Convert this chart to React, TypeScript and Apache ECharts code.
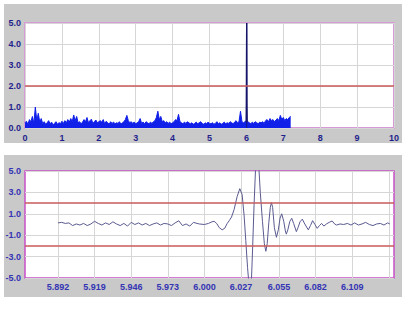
import React, { useEffect, useRef } from "react";
import * as echarts from "echarts";

// ---- Top panel: spectrum (0 .. 7.2 s, sample step 0.04) ----
const SPECTRUM_STEP = 0.04;
const SPECTRUM: number[] = [
  0.25, 0.32, 0.18, 0.4, 0.3, 0.55, 0.22, 1.0, 0.35, 0.7, 0.28, 0.45, 0.2,
  0.3, 0.18, 0.25, 0.35, 0.2, 0.28, 0.15, 0.22, 0.3, 0.18, 0.26, 0.2, 0.32,
  0.22, 0.35, 0.25, 0.4, 0.28, 0.45, 0.3, 0.62, 0.35, 0.55, 0.25, 0.3,
  0.2, 0.28, 0.4, 0.3, 0.5, 0.25, 0.35, 0.42, 0.22, 0.3, 0.38, 0.25, 0.3,
  0.35, 0.28, 0.4, 0.2, 0.32, 0.25, 0.18, 0.3, 0.22, 0.28, 0.2, 0.25,
  0.22, 0.3, 0.18, 0.25, 0.3, 0.4, 0.6, 0.35, 0.25, 0.3, 0.22, 0.28, 0.2,
  0.25, 0.3, 0.45, 0.22, 0.28, 0.2, 0.3, 0.25, 0.2, 0.28, 0.22, 0.3,
  0.35, 0.5, 0.8, 0.4, 0.55, 0.3, 0.35, 0.25, 0.3, 0.22, 0.28, 0.2, 0.25,
  0.3, 0.4, 0.35, 0.65, 0.3, 0.25, 0.2, 0.28, 0.22, 0.3, 0.25, 0.2,
  0.25, 0.18, 0.22, 0.28, 0.2, 0.25, 0.3, 0.22, 0.18, 0.25, 0.2, 0.28, 0.22,
  0.2, 0.25, 0.18, 0.22, 0.3, 0.2, 0.25, 0.18, 0.22, 0.28, 0.2, 0.25,
  0.22, 0.3, 0.25, 0.2, 0.28, 0.35, 0.25, 0.3, 0.8, 0.3, 0.25, 0.3, 0.35,
  0.3, 0.25, 0.2, 0.28, 0.22, 0.3, 0.25, 0.2, 0.28, 0.25, 0.3, 0.22,
  0.35, 0.4, 0.3, 0.45, 0.35, 0.4, 0.3, 0.38, 0.45, 0.35, 0.6, 0.4, 0.5,
  0.35, 0.45, 0.4, 0.5, 0.55,
];
const SPIKE: [number, number][] = [
  [5.995, 0.3], [6.0, 1.2], [6.005, 3.3], [6.01, 5.0], [6.015, 1.2], [6.02, 0.3],
];
const TOP_X_MIN = 0;
const TOP_X_MAX = 10;
const TOP_Y_MIN = 0;
const TOP_Y_MAX = 5;
const TOP_LIMIT = [2];

// ---- Bottom panel: zoomed waveform ----
const WAVE: [number, number][] = [
  [5.892, 0.15], [5.8947, 0.2], [5.8974, 0.1], [5.9001, 0.15], [5.9028, -0.1],
  [5.9055, 0.05], [5.9082, -0.05], [5.9109, 0.1], [5.9136, -0.1], [5.9163, 0.05],
  [5.919, 0.3], [5.9217, 0.1], [5.9244, -0.05], [5.9271, 0.15], [5.9298, 0.0],
  [5.9325, 0.25], [5.9352, 0.05], [5.9379, -0.1], [5.9406, 0.1], [5.9433, -0.15],
  [5.946, 0.2], [5.9487, 0.0], [5.9514, 0.15], [5.9541, -0.05], [5.9568, 0.1],
  [5.9595, -0.1], [5.9622, 0.05], [5.9649, 0.15], [5.9676, -0.05], [5.9703, 0.1],
  [5.973, 0.05], [5.9757, -0.1], [5.9784, 0.15], [5.9811, 0.35], [5.9838, -0.1],
  [5.9865, 0.05], [5.9892, -0.15], [5.9919, 0.2], [5.9946, 0.1], [5.9962, 0.05],
  [6.0, 0.0], [6.003, 0.1], [6.0055, 0.25], [6.0072, 0.3], [6.009, 0.1],
  [6.011, -0.3], [6.0131, -0.5], [6.015, -0.35], [6.0168, 0.1], [6.0185, 0.4],
  [6.02, 0.7], [6.0219, 1.4], [6.0241, 2.6], [6.0261, 3.35], [6.0278, 2.8],
  [6.0293, 0.8], [6.0305, -1.5], [6.0318, -4.0], [6.0333, -6.3], [6.0346, -5.5],
  [6.0356, -2.0], [6.0366, 1.8], [6.0377, 5.2], [6.039, 6.2], [6.0402, 5.2],
  [6.0412, 3.0], [6.0428, 0.3], [6.0442, -1.8], [6.0453, -2.5], [6.0463, -1.8],
  [6.0475, 0.2], [6.0486, 1.6], [6.0494, 2.05], [6.0503, 1.6], [6.0516, -0.3],
  [6.0531, -1.2], [6.0545, -0.5], [6.0558, 0.6], [6.057, 1.0], [6.0585, 0.3],
  [6.0597, -0.6], [6.0604, -0.9], [6.0615, -0.5], [6.063, 0.3], [6.0644, 0.58],
  [6.0658, 0.1], [6.0678, -0.67], [6.069, -0.3], [6.0705, 0.25], [6.0722, 0.5],
  [6.074, 0.05], [6.0766, -0.5], [6.0782, -0.1], [6.0798, 0.36], [6.0815, 0.0],
  [6.0832, -0.36], [6.0848, -0.1], [6.0864, 0.1], [6.0881, -0.15], [6.09, 0.05],
  [6.092, 0.2], [6.0942, 0.33], [6.096, 0.05], [6.0975, -0.05], [6.1, 0.05],
  [6.1027, 0.0], [6.1054, 0.1], [6.1081, -0.05], [6.1108, 0.15], [6.1135, -0.05],
  [6.1162, 0.05], [6.1189, 0.2], [6.1216, 0.0], [6.1243, -0.1], [6.127, 0.05],
  [6.1297, 0.1], [6.1324, -0.05], [6.1351, 0.15], [6.1367, 0.05],
];
const BOTTOM_X_TICKS = [5.892, 5.919, 5.946, 5.973, 6.0, 6.027, 6.055, 6.082, 6.109];
const BOTTOM_X_GRID = [...BOTTOM_X_TICKS, 6.136];
const BOTTOM_X_MIN = 5.8677;
const BOTTOM_X_MAX = 6.1398;
const BOTTOM_Y_MIN = -5;
const BOTTOM_Y_MAX = 5;
const BOTTOM_LIMITS = [2, -2];

const FONT = "'Liberation Sans', Arial, sans-serif";

export default function App() {
  const ref = useRef<HTMLDivElement>(null);
  useEffect(() => {
    if (!ref.current) return;
    const chart = echarts.init(ref.current, undefined, { renderer: "svg" });
    const topLabel = { color: "#1f1f8c", fontFamily: FONT, fontWeight: "bold" as const, fontSize: 9 };
    const botLabel = { color: "#3434b4", fontFamily: FONT, fontWeight: "bold" as const, fontSize: 9 };
    const gridLine = { show: true, lineStyle: { color: "#d6d6d6", width: 1 } };
    chart.setOption({
      animation: false,
      backgroundColor: "#ffffff",
      graphic: [
        { type: "rect", z: -10, shape: { x: 4, y: 4, width: 398, height: 139 }, style: { fill: "#c9c9c9" } },
        { type: "rect", z: -10, shape: { x: 4, y: 155, width: 398, height: 142 }, style: { fill: "#c9c9c9" } },
      ],
      grid: [
        { left: 25, top: 23, width: 369, height: 105, show: true, backgroundColor: "#ffffff", borderColor: "#d79ad7", borderWidth: 2 },
        { left: 25, top: 171, width: 369, height: 107, show: true, backgroundColor: "#ffffff", borderColor: "#c850c8", borderWidth: 1.5 },
      ],
      xAxis: [
        {
          type: "value", gridIndex: 0, min: TOP_X_MIN, max: TOP_X_MAX, interval: 1,
          axisLine: { show: false }, axisTick: { show: false },
          axisLabel: { ...topLabel, margin: 5, formatter: (v: number) => String(v) },
          splitLine: gridLine,
        },
        {
          type: "value", gridIndex: 1, min: BOTTOM_X_MIN, max: BOTTOM_X_MAX,
          axisLine: { show: false },
          axisTick: { show: false, customValues: BOTTOM_X_GRID },
          axisLabel: { ...botLabel, margin: 4, customValues: BOTTOM_X_TICKS, formatter: (v: number) => v.toFixed(3) },
          splitLine: gridLine,
        },
      ],
      yAxis: [
        {
          type: "value", gridIndex: 0, min: TOP_Y_MIN, max: TOP_Y_MAX, interval: 1,
          axisLine: { show: false }, axisTick: { show: false },
          axisLabel: { ...topLabel, margin: 4, formatter: (v: number) => v.toFixed(1) },
          splitLine: gridLine,
        },
        {
          type: "value", gridIndex: 1, min: BOTTOM_Y_MIN, max: BOTTOM_Y_MAX, interval: 2,
          axisLine: { show: false }, axisTick: { show: false },
          axisLabel: { ...botLabel, margin: 4, formatter: (v: number) => v.toFixed(1) },
          splitLine: gridLine,
        },
      ],
      series: [
        {
          type: "line", xAxisIndex: 0, yAxisIndex: 0, symbol: "none", z: 3,
          data: SPECTRUM.map((v, i) => [i * SPECTRUM_STEP, v]),
          lineStyle: { color: "#1020e8", width: 1 },
          areaStyle: { color: "#1020e8", opacity: 1 },
          markLine: {
            silent: true, symbol: "none", label: { show: false },
            lineStyle: { color: "#c85a5a", width: 1.5, type: "solid" },
            data: TOP_LIMIT.map((y) => ({ yAxis: y })),
          },
        },
        {
          type: "line", xAxisIndex: 0, yAxisIndex: 0, symbol: "none", z: 4,
          data: SPIKE,
          lineStyle: { color: "#14146a", width: 1.5 },
          areaStyle: { color: "#14146a", opacity: 1 },
        },
        {
          type: "line", xAxisIndex: 1, yAxisIndex: 1, symbol: "none", z: 3, clip: true,
          data: WAVE,
          lineStyle: { color: "#5a5a90", width: 1 },
          markLine: {
            silent: true, symbol: "none", label: { show: false },
            lineStyle: { color: "#c85a5a", width: 1.5, type: "solid" },
            data: BOTTOM_LIMITS.map((y) => ({ yAxis: y })),
          },
        },
      ],
    });
    return () => chart.dispose();
  }, []);
  return <div ref={ref} style={{ position: "fixed", left: 0, top: 0, width: 406, height: 310 }} />;
}
